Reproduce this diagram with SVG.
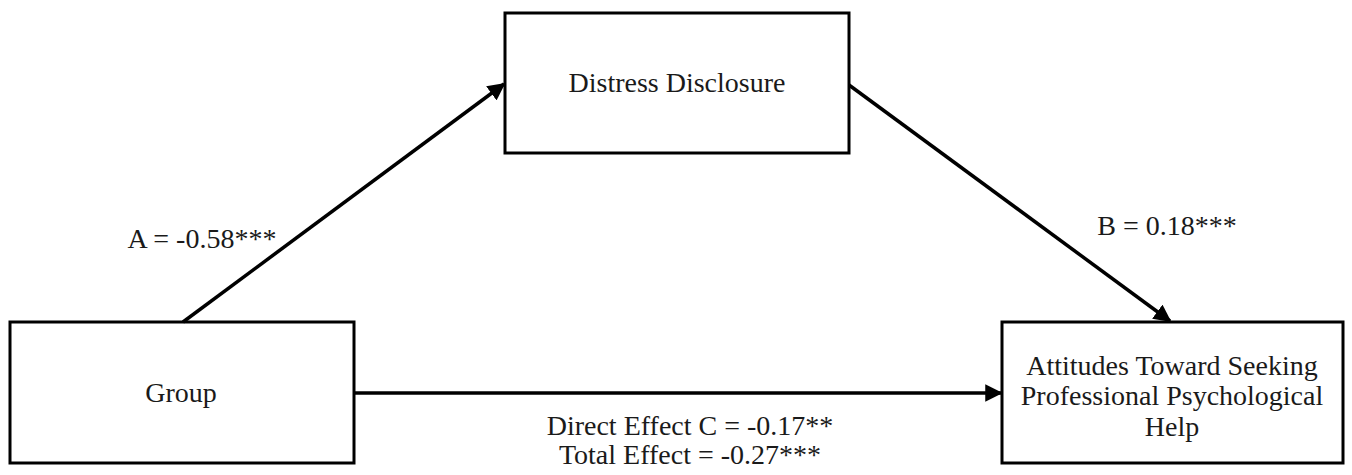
<svg xmlns="http://www.w3.org/2000/svg" width="1352" height="475" viewBox="0 0 1352 475">
<style>
.box{fill:#fff;stroke:#000;stroke-width:3}
.t{font-family:"Liberation Serif","Times New Roman",serif;font-size:28px;fill:#1a1a1a;text-anchor:middle}
.c{stroke:#000;stroke-width:3.5;fill:none}
</style>
<defs>
<marker id="ah" viewBox="0 0 10 10" refX="9" refY="5" markerWidth="5" markerHeight="5" markerUnits="strokeWidth" orient="auto">
<path d="M0,0 L10,5 L0,10 Z" fill="#000"/>
</marker>
</defs>
<rect width="1352" height="475" fill="#fff"/>
<g id="node-distress">
<rect class="box" x="505" y="13" width="344" height="140"/>
<text class="t" x="677" y="92">Distress Disclosure</text>
</g>
<g id="node-group">
<rect class="box" x="10" y="322" width="344" height="141"/>
<text class="t" x="181" y="402">Group</text>
</g>
<g id="node-attitudes">
<rect class="box" x="1002" y="322" width="341" height="141"/>
<text class="t" x="1172" y="375">Attitudes Toward Seeking</text>
<text class="t" x="1172" y="405">Professional Psychological</text>
<text class="t" x="1172" y="436">Help</text>
</g>
<g id="connectors">
<line class="c" x1="183" y1="322" x2="504" y2="84" marker-end="url(#ah)"/>
<line class="c" x1="849" y1="85" x2="1170" y2="321" marker-end="url(#ah)"/>
<line class="c" x1="354" y1="393" x2="1001" y2="393" marker-end="url(#ah)"/>
</g>
<g id="labels">
<text class="t" x="202" y="248">A = -0.58***</text>
<text class="t" x="1167" y="235">B = 0.18***</text>
<text class="t" x="690" y="435">Direct Effect C = -0.17**</text>
<text class="t" x="690" y="464">Total Effect = -0.27***</text>
</g>
</svg>
